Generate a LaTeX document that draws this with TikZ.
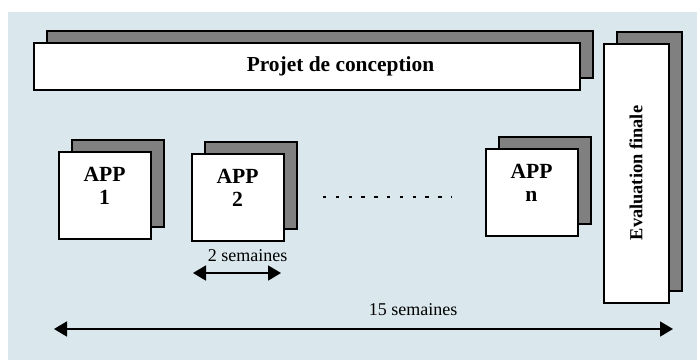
\documentclass[tikz,border=0pt]{standalone}
\usepackage{fontspec}
\setmainfont{Liberation Serif}
\usepackage{graphicx}
\usepackage{xcolor}
\usetikzlibrary{shadows,arrows.meta,positioning}

\definecolor{bgblue}{RGB}{218,231,236}
\definecolor{shadowgray}{RGB}{128,128,128}

\begin{document}
\begin{tikzpicture}[
  x=0.5pt, y=-0.5pt,
  box/.style={rectangle, draw=black, fill=white, line width=1pt,
              copy shadow={shadow xshift=6.5pt, shadow yshift=6pt,
                           fill=shadowgray, draw=black}},
  appbox/.style={box, minimum width=46pt, minimum height=43.5pt,
                 align=center, text depth=9.5pt,
                 font=\fontsize{10.8}{11.5}\selectfont\bfseries},
  span/.style={{Triangle[length=6.5pt,width=7.5pt]}-{Triangle[length=6.5pt,width=7.5pt]},
               line width=0.9pt},
  dots/.style={line width=1pt, dash pattern=on 1.7pt off 4.7pt},
  weeks/.style={font=\fontsize{9}{10}\selectfont, inner sep=1pt}
]
\useasboundingbox (0,0) rectangle (697,360);
\fill[bgblue] (8,12) rectangle (697,360);

% long blocks
\node[box, minimum width=273pt, minimum height=23.5pt,
      font=\fontsize{10.7}{12}\selectfont\bfseries] (proj) at (306.5,66)
      {\hspace*{34pt}Projet de conception};
\node[box, minimum width=32.5pt, minimum height=129.5pt,
      font=\fontsize{9.2}{11}\selectfont\bfseries] (eval) at (636,173)
      {\rotatebox{90}{Evaluation finale}};

% APP blocks
\node[appbox] (app1) at (104.5,195.5) {APP\\1};
\node[appbox] (app2) at (237.5,197.5) {APP\\2};
\node[appbox] (appn) at (531.5,192) {APP\\n};

\coordinate (dl) at (323,197);
\coordinate (dr) at (452,197);
\draw[dots] (dl) -- (dr);

% durations
\coordinate (w2l) at (193,273);
\coordinate (w2r) at (281,273);
\draw[span] (w2l) -- node[weeks, pos=0.62, above=4pt] {2 semaines} (w2r);

\coordinate (w15l) at (54,329);
\coordinate (w15r) at (673,329);
\draw[span] (w15l) -- node[weeks, pos=0.58, above=5pt] {15 semaines} (w15r);
\end{tikzpicture}
\end{document}
